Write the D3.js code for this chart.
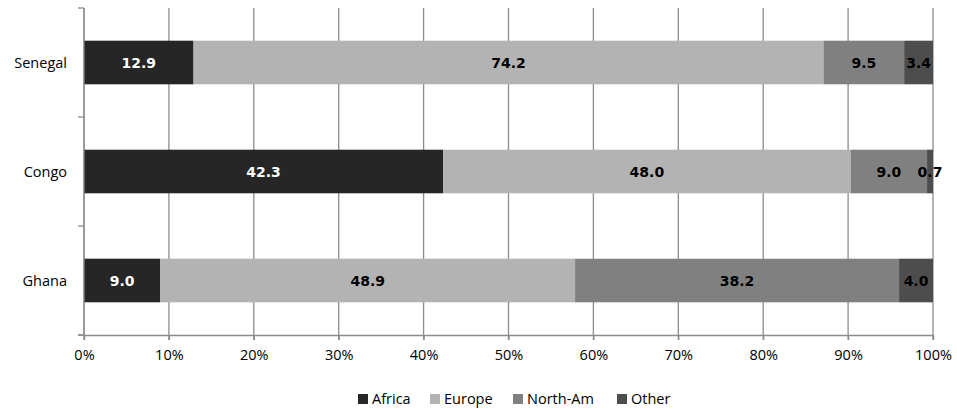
<!DOCTYPE html>
<html>
<head>
<meta charset="utf-8">
<script src="https://cdn.jsdelivr.net/npm/d3@7"></script>
<style>
  body { margin: 0; background: #fff; }
  svg { display: block; }
</style>
</head>
<body>
<div id="chart"></div>
<script>
const WIDTH = 957;
const HEIGHT = 409;

// data
const countries = ["Senegal", "Congo", "Ghana"];
const regions = ["Africa", "Europe", "North-Am", "Other"];
const africa = [12.9, 42.3, 9.0];
const europe = [74.2, 48.0, 48.9];
const northAm = [9.5, 9.0, 38.2];
const other = [3.4, 0.7, 4.0];
const xTicks = [0, 0.1, 0.2, 0.3, 0.4, 0.5, 0.6, 0.7, 0.8, 0.9, 1];

const colors = ["#262626", "#b3b3b3", "#808080", "#4d4d4d"];
const labelColors = ["#fff", "#000", "#000", "#000"];

const rows = countries.map((c, i) => ({
  country: c,
  "Africa": africa[i],
  "Europe": europe[i],
  "North-Am": northAm[i],
  "Other": other[i]
}));

// stacked to 100%
const series = d3.stack().keys(regions).offset(d3.stackOffsetExpand)(rows);

const margin = {top: 8, right: 24, bottom: 74, left: 84};

const svg = d3.select("#chart").append("svg")
  .attr("width", WIDTH)
  .attr("height", HEIGHT);

const x = d3.scaleLinear().domain([0, 1]).range([84, 933]);
const y = d3.scaleBand().domain(countries).range([margin.top, HEIGHT - margin.bottom]).paddingInner(0.6).paddingOuter(0.3);
const yBand = d3.scaleBand().domain(countries).range([margin.top, HEIGHT - margin.bottom]);

const gridColor = "#8c8c8c";
const font = "'Open Sans', sans-serif";

// vertical gridlines
svg.append("g")
  .selectAll("line")
  .data(xTicks)
  .join("line")
  .attr("x1", d => x(d)).attr("x2", d => x(d))
  .attr("y1", margin.top).attr("y2", HEIGHT - margin.bottom + 5)
  .attr("stroke", gridColor)
  .attr("stroke-width", 1.3);

// bars
const layer = svg.append("g")
  .selectAll("g")
  .data(series)
  .join("g")
  .attr("fill", (d, i) => colors[i]);

layer.selectAll("rect")
  .data(d => d)
  .join("rect")
  .attr("x", d => x(d[0]))
  .attr("width", d => x(d[1]) - x(d[0]))
  .attr("y", d => y(d.data.country))
  .attr("height", y.bandwidth());

// labels
const labels = svg.append("g")
  .attr("font-family", "'DejaVu Sans', sans-serif")
  .attr("font-weight", "bold")
  .attr("font-size", 14)
  .attr("text-anchor", "middle");

series.forEach((s, si) => {
  labels.selectAll(null)
    .data(s)
    .join("text")
    .attr("x", d => (x(d[0]) + x(d[1])) / 2)
    .attr("y", d => y(d.data.country) + y.bandwidth() / 2)
    .attr("dy", "0.36em")
    .attr("fill", labelColors[si])
    .text(d => d.data[s.key].toFixed(1));
});

// left axis
const yAxis = svg.append("g")
  .attr("transform", `translate(${x(0)},0)`);
yAxis.append("line")
  .attr("y1", margin.top).attr("y2", HEIGHT - margin.bottom)
  .attr("stroke", gridColor).attr("stroke-width", 1.3);
yAxis.selectAll(".tk")
  .data(countries)
  .join("line")
  .attr("class", "tk")
  .attr("x1", -6).attr("x2", 0)
  .attr("y1", d => yBand(d) + yBand.bandwidth())
  .attr("y2", d => yBand(d) + yBand.bandwidth())
  .attr("stroke", gridColor).attr("stroke-width", 1.3);
yAxis.append("line")
  .attr("x1", -6).attr("x2", 0)
  .attr("y1", margin.top).attr("y2", margin.top)
  .attr("stroke", gridColor).attr("stroke-width", 1.3);
yAxis.selectAll("text")
  .data(countries)
  .join("text")
  .attr("x", -17)
  .attr("y", d => y(d) + y.bandwidth() / 2)
  .attr("dy", "0.35em")
  .attr("text-anchor", "end")
  .attr("font-family", font)
  .attr("font-size", 14.5)
  .attr("fill", "#000")
  .text(d => d);

// bottom axis
const xAxis = svg.append("g")
  .attr("transform", `translate(0,${HEIGHT - margin.bottom})`)
  .call(d3.axisBottom(x).tickValues(xTicks).tickFormat(d3.format(".0%")).tickSize(5).tickPadding(10));
xAxis.select(".domain").attr("stroke", gridColor).attr("stroke-width", 1.3);
xAxis.selectAll(".tick line").attr("stroke", gridColor).attr("stroke-width", 1.3);
xAxis.selectAll("text")
  .attr("font-family", font)
  .attr("font-size", 14.5)
  .attr("fill", "#000");
xAxis.append("line")
  .attr("x1", x(0) - 6).attr("x2", x(0))
  .attr("stroke", gridColor).attr("stroke-width", 1.3);

// legend
const legendX = [358, 430, 513, 617];
const legend = svg.append("g")
  .attr("font-family", font)
  .attr("font-size", 14.5);
const item = legend.selectAll("g")
  .data(regions)
  .join("g")
  .attr("transform", (d, i) => `translate(${legendX[i]},399)`);
item.append("rect")
  .attr("x", 0).attr("y", -5)
  .attr("width", 10).attr("height", 10)
  .attr("fill", (d, i) => colors[i]);
item.append("text")
  .attr("x", 14)
  .attr("dy", "0.36em")
  .attr("fill", "#000")
  .text(d => d);
</script>
</body>
</html>
